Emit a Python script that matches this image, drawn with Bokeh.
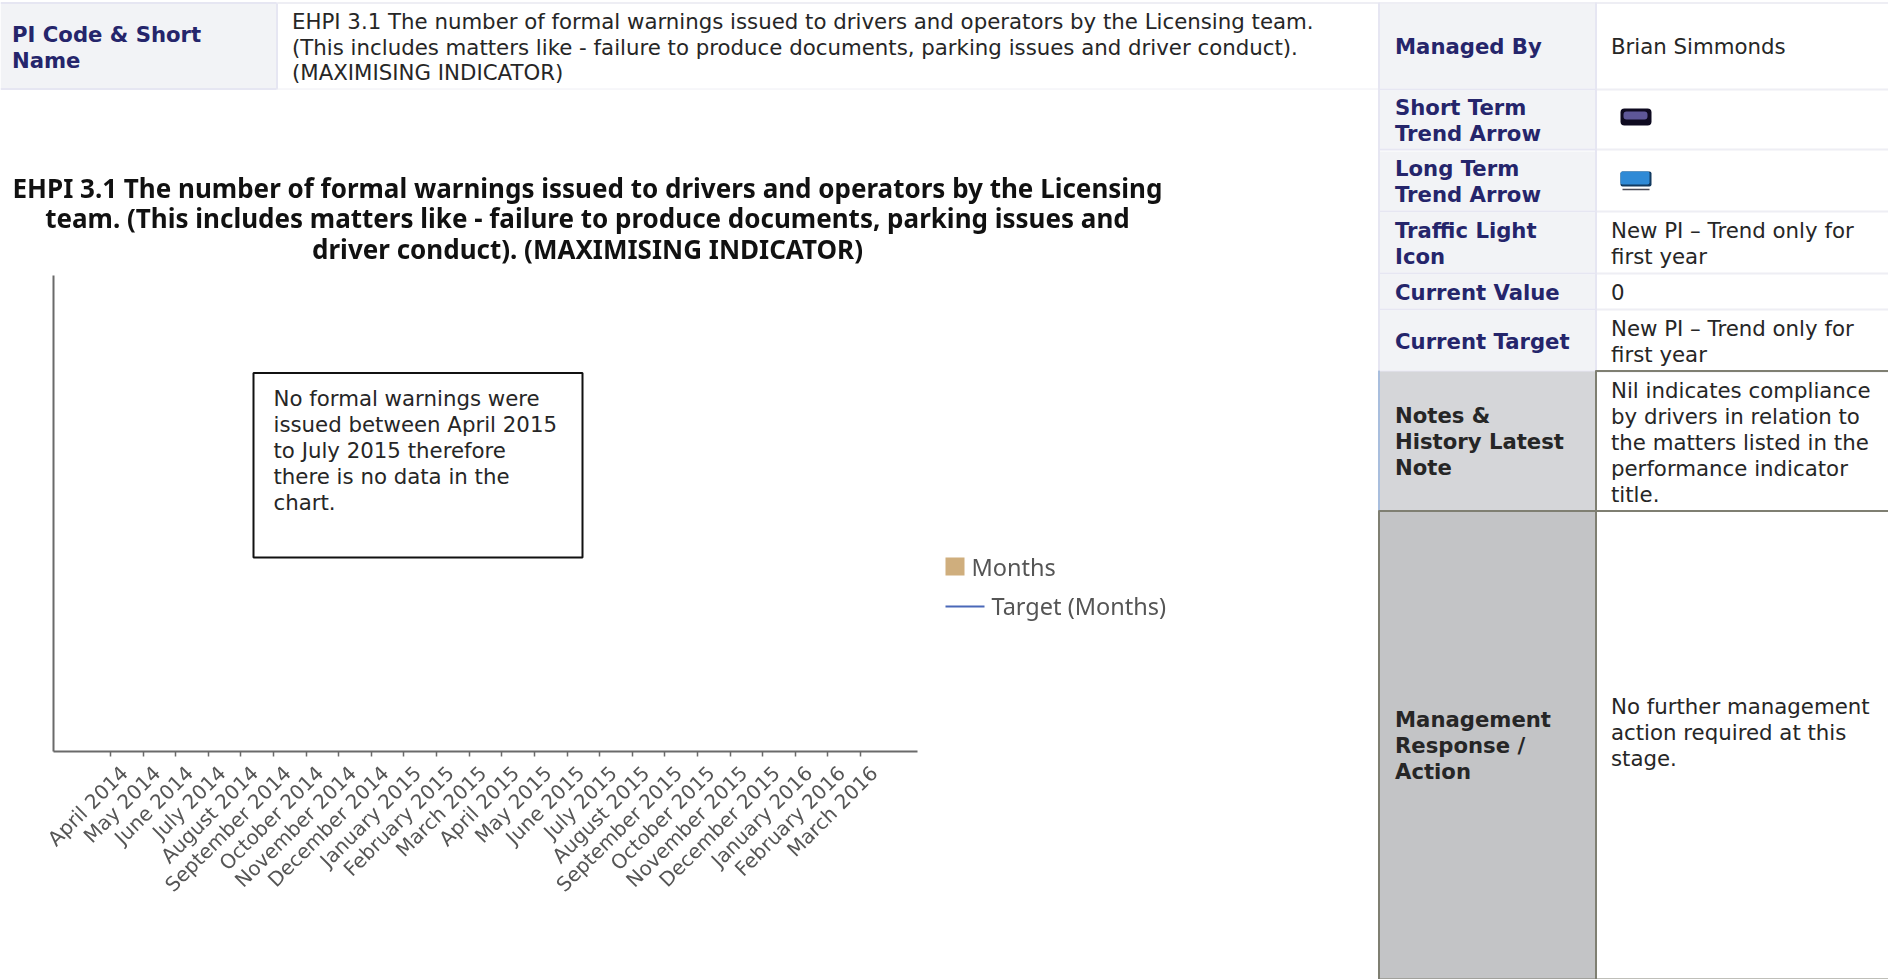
from bokeh.embed import file_html
from bokeh.models import ColumnDataSource, FixedTicker, LinearAxis, Range1d
from bokeh.plotting import figure
from bokeh.resources import INLINE
from bokeh.core.properties import value

# Reporting months on the category axis
months = [
    "April 2014", "May 2014", "June 2014", "July 2014", "August 2014", "September 2014",
    "October 2014", "November 2014", "December 2014", "January 2015", "February 2015", "March 2015",
    "April 2015", "May 2015", "June 2015", "July 2015", "August 2015", "September 2015",
    "October 2015", "November 2015", "December 2015", "January 2016", "February 2016", "March 2016",
]
# No warnings were issued, so neither series has anything to draw
months_series = [float("nan")] * 24
target_series = [float("nan")] * 24

chart_title = [
    "EHPI 3.1 The number of formal warnings issued to drivers and operators by the Licensing",
    "team. (This includes matters like - failure to produce documents, parking issues and",
    "driver conduct). (MAXIMISING INDICATOR)",
]
note_lines = [
    "No formal warnings were",
    "issued between April 2015",
    "to July 2015 therefore",
    "there is no data in the",
    "chart.",
]
name_lines = [
    "EHPI 3.1 The number of formal warnings issued to drivers and operators by the Licensing team.",
    "(This includes matters like - failure to produce documents, parking issues and driver conduct).",
    "(MAXIMISING INDICATOR)",
]

W, H = 1888, 979
NAVY = "#25256b"
INK = "#262626"
FONT = value("DejaVu Sans")
CHART_FONT = value("Noto Sans")
BODY = 21.3
BOLD = 21.2
OVERLAY = {"position": "absolute", "left": "0", "top": "0"}
AXIS_GREY = "#6a6a6a"


def pixel_figure(**extra):
    """A window-sized figure whose data units are page pixels."""
    fig = figure(width=W, height=H, x_range=Range1d(0, W), y_range=Range1d(H, 0),
                 output_backend="svg", toolbar_location=None, min_border=0,
                 outline_line_color=None, x_axis_location=None, y_axis_location=None,
                 background_fill_alpha=0, border_fill_alpha=0, **extra)
    fig.grid.visible = False
    return fig


page = pixel_figure(styles=dict(OVERLAY))
soft = pixel_figure(styles={**OVERLAY, "filter": "blur(0.6px)"})


def cell(x0, x1, y0, y1, fill, line=None, width=1):
    page.quad(left=[x0], right=[x1], top=[y0], bottom=[y1], fill_color=fill,
              line_color=line, line_width=width)


def hline(x0, x1, y, color, width=1, fig=page):
    fig.line([x0, x1], [y, y], line_color=color, line_width=width)


def vline(x, y0, y1, color, width=1):
    page.line([x, x], [y0, y1], line_color=color, line_width=width)


def words(x, y, lines, color=INK, size=BODY, weight="normal", step=26, font=FONT, align="left", fig=page):
    fig.text(x=[x] * len(lines), y=[y + i * step for i in range(len(lines))], text=lines,
             text_color=color, text_font=font, text_font_size=f"{size}px",
             text_font_style=weight, text_baseline="middle", text_align=align)


# Short-name row across the top
RULE = "#eeeef4"
cell(0, 276, 3, 88, "#f2f3f6", None)
hline(0, 276, 2.5, "#e6e6f2", 2)
hline(0, 276, 88.5, "#e6e6f2", 2)
vline(276.5, 2, 89, "#e6e6f2", 2)
hline(277, 1378, 2.5, RULE, 2)
hline(277, 1378, 88.5, RULE, 1)
words(11.5, 34, ["PI Code & Short", "Name"], NAVY, BOLD, "bold")
words(291.5, 21, name_lines, INK, BODY, step=25.5)

# Right-hand summary panel
LABEL_LEFT, LABEL_RIGHT = 1379, 1595
rows = [
    (3, 88, ["Managed By"], ["Brian Simmonds"]),
    (90, 148, ["Short Term", "Trend Arrow"], []),
    (151, 210, ["Long Term", "Trend Arrow"], []),
    (212, 272, ["Traffic Light", "Icon"], ["New PI \u2013 Trend only for", "first year"]),
    (274, 308, ["Current Value"], ["0"]),
    (310, 370, ["Current Target"], ["New PI \u2013 Trend only for", "first year"]),
]
for top, bottom, label, val in rows:
    cell(LABEL_LEFT, LABEL_RIGHT, top, bottom, "#f2f3f6")
    middle = (top + bottom) / 2 + 0.7
    words(1394.5, middle - 13 * (len(label) - 1), label, NAVY, BOLD, "bold")
    if val:
        words(1610.5, middle - 13 * (len(val) - 1), val, INK)
    hline(LABEL_RIGHT, W, bottom + 1, RULE, 2)
    hline(LABEL_LEFT, LABEL_RIGHT, bottom + 1, "#e6e6f2", 2)
hline(1378, W, 2.5, RULE, 2)
vline(LABEL_RIGHT + 0.5, 2, 370, "#e6e6f2", 2)
vline(1378.5, 2, 370, "#e6e6f2", 2)

# Grey notes and management rows
cell(LABEL_LEFT, LABEL_RIGHT, 371, 510, "#d5d6d9")
cell(LABEL_LEFT, LABEL_RIGHT, 511, 979, "#c3c4c6")
vline(1378.5, 370, 510, "#a9bedd", 2)
vline(1378.5, 510, 979, "#7f7f72", 2)
vline(LABEL_RIGHT + 0.5, 370, 979, "#7f7f72", 2)
hline(1595, W, 370.5, "#7f7f72", 2)
hline(1378, W, 510.5, "#7f7f72", 2)
hline(1378, W, 978.5, "#7f7f72", 1)
words(1394.5, 415, ["Notes &", "History Latest", "Note"], INK, BOLD, "bold")
words(1610.5, 390, ["Nil indicates compliance", "by drivers in relation to", "the matters listed in the",
                    "performance indicator", "title."], INK)
words(1394.5, 719, ["Management", "Response /", "Action"], INK, BOLD, "bold")
words(1610.5, 706, ["No further management", "action required at this", "stage."], INK)

# Trend icons
page.quad(left=[1620], right=[1651], top=[108], bottom=[125], fill_color="#0e0a20",
          line_color=None, border_radius=4)
page.quad(left=[1623], right=[1647], top=[111], bottom=[119], fill_color="#5e5798",
          line_color=None, border_radius=3)
page.quad(left=[1620], right=[1651], top=[171], bottom=[186], fill_color="#123a60",
          line_color=None, border_radius=2)
page.quad(left=[1620], right=[1649], top=[171], bottom=[184], fill_color="#2f8ad6",
          line_color=None, border_radius=2)
hline(1622, 1649, 189, "#4a4a55", 1.5)

# Note box
page.quad(left=[253], right=[582], top=[372.5], bottom=[557], fill_color="white",
          line_color="#111111", line_width=2)
words(273, 397.5, note_lines, INK, step=26)

# Chart heading and legend
words(587, 187, chart_title, "#111111", 26, "bold", step=30.7, font=CHART_FONT, align="center", fig=soft)
LEGEND_TEXT = "#555555"
soft.quad(left=[945], right=[964], top=[557], bottom=[575], fill_color="#cfae7d", line_color=None)
hline(945, 984, 606, "#4a68b8", 2, fig=soft)
words(971, 566, ["Months"], LEGEND_TEXT, 23.5, font=CHART_FONT, fig=soft)
words(991, 605, ["Target (Months)"], LEGEND_TEXT, 23.5, font=CHART_FONT, fig=soft)

# Chart axes sit over the page figure; months are placed by their index along the axis
PADDING = 1.75
LABEL_SHIFT = 0.42
positions = list(range(len(months)))
source = ColumnDataSource(dict(position=positions, months=months_series, target=target_series))
chart = figure(width=W, height=H, output_backend="svg", toolbar_location=None,
               x_range=Range1d(-PADDING, len(months) - 1 + PADDING),
               y_range=Range1d(0, 1),
               min_border_left=53, min_border_right=W - 917, min_border_top=275, min_border_bottom=H - 751,
               background_fill_alpha=0, border_fill_alpha=0, outline_line_color=None,
               styles={**OVERLAY, "filter": "blur(0.6px)"})
chart.vbar(x="position", top="months", width=0.6, source=source, fill_color="#cfae7d", line_color=None)
chart.line(x="position", y="target", source=source, line_color="#4a68b8", line_width=2)
chart.grid.visible = False
chart.yaxis.ticker = []
chart.yaxis.axis_line_color = AXIS_GREY
chart.yaxis.axis_line_width = 2

# The first axis carries the ticks; a second axis just below it carries the month names,
# set slightly to the right of their ticks
tick_axis = chart.xaxis[0]
tick_axis.ticker = FixedTicker(ticks=positions)
tick_axis.axis_line_color = AXIS_GREY
tick_axis.axis_line_width = 2
tick_axis.major_tick_line_color = AXIS_GREY
tick_axis.major_tick_line_width = 1.5
tick_axis.minor_tick_line_color = None
tick_axis.major_tick_out = 5
tick_axis.major_tick_in = 0
tick_axis.major_label_overrides = {i: "" for i in positions}
tick_axis.major_label_standoff = 0

chart.extra_x_ranges = {"labels": Range1d(-PADDING - LABEL_SHIFT, len(months) - 1 + PADDING - LABEL_SHIFT)}
label_axis = LinearAxis(x_range_name="labels", ticker=FixedTicker(ticks=positions),
                        major_label_overrides=dict(zip(positions, months)))
label_axis.axis_line_color = None
label_axis.major_tick_line_color = None
label_axis.minor_tick_line_color = None
label_axis.major_label_orientation = 0.785
label_axis.major_label_text_font = "DejaVu Sans"
label_axis.major_label_text_font_size = "20px"
label_axis.major_label_text_color = "#555555"
label_axis.major_label_standoff = 7
chart.add_layout(label_axis, "below")

open("out.html", "w").write(file_html([page, soft, chart], INLINE))
